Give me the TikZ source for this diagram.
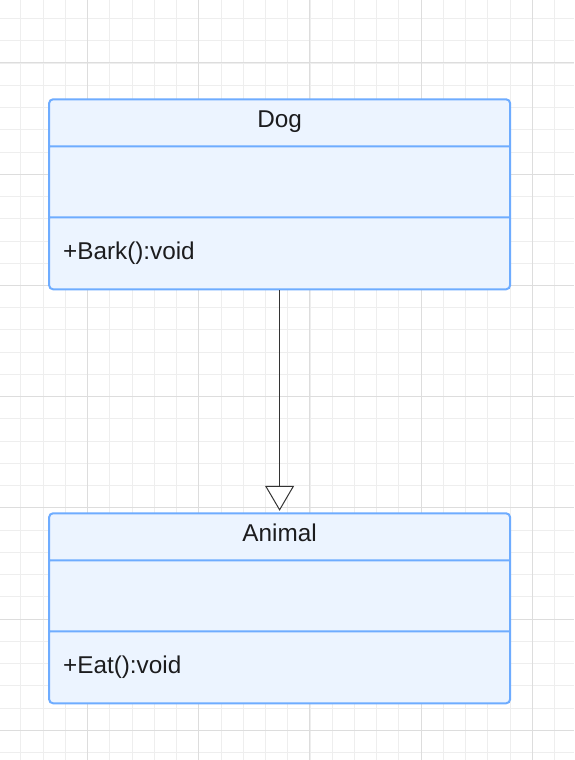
\documentclass[tikz,border=0pt]{standalone}
\usepackage{fontspec}
\setmainfont{Liberation Sans}
\usetikzlibrary{positioning, shapes.multipart, arrows.meta}
\definecolor{classline}{RGB}{110,172,255}
\definecolor{classfill}{RGB}{236,244,255}
\definecolor{classtext}{RGB}{28,28,30}
\definecolor{gridminor}{RGB}{238,238,238}
\definecolor{gridmajor}{RGB}{221,221,221}
\newcommand{\partstrut}[2]{\rule[-#2]{0pt}{\dimexpr#1+#2\relax}}

\begin{document}
\begin{tikzpicture}[x=1pt, y=-1pt, node distance=222pt,
    umlclass/.style={rectangle split, rectangle split parts=3,
      rectangle split part align={center,left,left},
      draw=classline, fill=classfill, line width=2pt, rounded corners=4pt,
      minimum width=461pt, inner xsep=14pt, inner ysep=0pt,
      text=classtext, font=\fontsize{24.3}{28}\selectfont},
    inherit/.style={-{Triangle[fill=white, width=29pt, length=25pt]},
      draw=black!80, line width=1pt, shorten >=1.5pt}]
  \fill[white] (0,0) rectangle (574,760);
  \useasboundingbox (0,0) rectangle (574,760);

  % background grid
  \foreach \k in {0,...,25} \draw[gridminor, line width=1pt] ({20.9+22.24*\k},0) -- ++(0,760);
  \foreach \k in {0,...,33} \draw[gridminor, line width=1pt] (0,{18.6+22.24*\k}) -- ++(574,0);
  \foreach \k in {0,...,4} \draw[gridmajor, line width=1pt] ({87.5+111.2*\k},0) -- ++(0,760);
  \foreach \k in {0,...,6} \draw[gridmajor, line width=1pt] (0,{63+111.2*\k}) -- ++(574,0);

  \node[umlclass, anchor=north] (dog) at (279.6,98.3)
    {\partstrut{27pt}{18pt}Dog
     \nodepart{second}\partstrut{69pt}{0pt}
     \nodepart{third}\partstrut{41pt}{29pt}+Bark():void};
  \node[umlclass, below=of dog] (animal)
    {\partstrut{27pt}{18pt}Animal
     \nodepart{second}\partstrut{69pt}{0pt}
     \nodepart{third}\partstrut{41pt}{29pt}+Eat():void};

  \draw[inherit] (dog.south) -- (animal.north);
\end{tikzpicture}
\end{document}
